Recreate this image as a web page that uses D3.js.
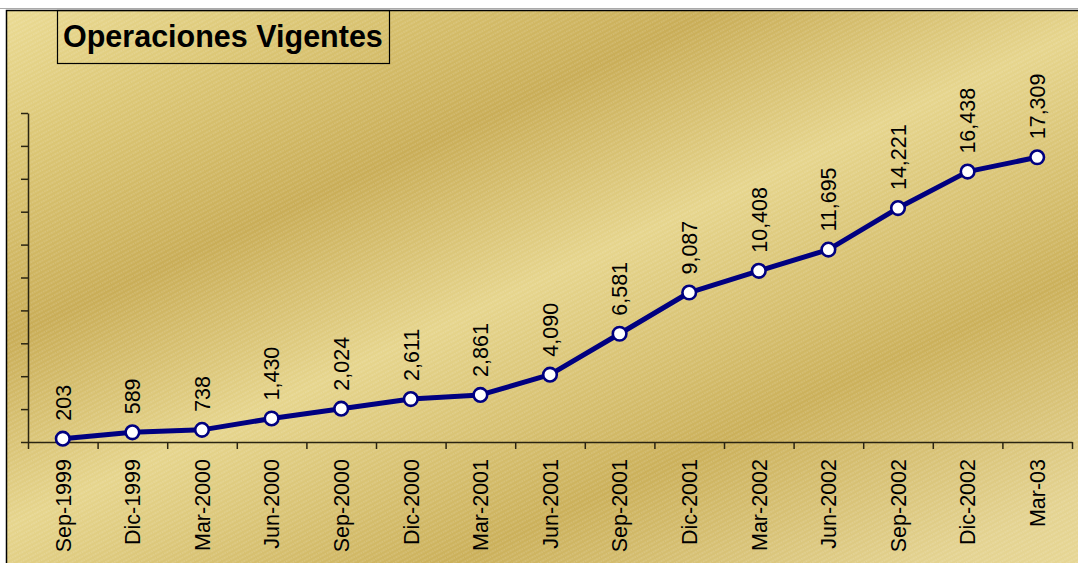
<!DOCTYPE html>
<html>
<head>
  <title>Operaciones Vigentes</title>
  <script src="https://d3js.org/d3.v7.min.js"></script>
  <style>
    body { margin: 0; background: #fff; }
    text { font-family: Arial, "Liberation Sans", sans-serif; }
  </style>
</head>
<body>
  <svg width="1078" height="563"></svg>
  <script>
    var categories = ["Sep-1999", "Dic-1999", "Mar-2000", "Jun-2000", "Sep-2000", "Dic-2000",
      "Mar-2001", "Jun-2001", "Sep-2001", "Dic-2001", "Mar-2002", "Jun-2002", "Sep-2002",
      "Dic-2002", "Mar-03"];
    var values = [203, 589, 738, 1430, 2024, 2611, 2861, 4090, 6581, 9087, 10408, 11695,
      14221, 16438, 17309];
    var yTicks = d3.range(0, 20001, 2000);

    var svg = d3.select("svg"),
        margin = {top: 113, right: 6, bottom: 121, left: 28},
        width = +svg.attr("width") - margin.left - margin.right,
        height = +svg.attr("height") - margin.top - margin.bottom;

    // background: gold bands + thin white diagonal hatching
    var defs = svg.append("defs");
    var grad = defs.append("linearGradient")
        .attr("id", "gold")
        .attr("gradientUnits", "userSpaceOnUse")
        .attr("x1", 0).attr("y1", 0)
        .attr("x2", 420).attr("y2", 910);
    [[0, "#ecdd97"], [0.14, "#dcc776"], [0.31, "#c9ad57"], [0.48, "#e6d58d"],
     [0.7, "#cbb05a"], [0.9, "#e4d391"], [1, "#e8d896"]].forEach(function(s) {
      grad.append("stop").attr("offset", s[0]).attr("stop-color", s[1]);
    });
    var pat = defs.append("pattern")
        .attr("id", "hatch")
        .attr("patternUnits", "userSpaceOnUse")
        .attr("width", 8).attr("height", 4)
        .attr("patternTransform", "rotate(-28)");
    pat.append("line")
        .attr("x1", 0).attr("y1", 2).attr("x2", 8).attr("y2", 2)
        .attr("stroke", "#fff").attr("stroke-opacity", 0.28)
        .attr("stroke-width", 1).attr("stroke-dasharray", "1.5,1");

    svg.append("rect").attr("x", 6.5).attr("y", 10.5).attr("width", 1100).attr("height", 600)
        .attr("fill", "url(#gold)");
    svg.append("rect").attr("x", 6.5).attr("y", 10.5).attr("width", 1100).attr("height", 600)
        .attr("fill", "url(#hatch)").attr("stroke", "#000").attr("stroke-width", 1.5);
    svg.append("line").attr("x1", 0).attr("x2", 1078).attr("y1", 8.5).attr("y2", 8.5)
        .attr("stroke", "#aaa").attr("stroke-width", 1);

    // title box
    svg.append("rect").attr("x", 57.5).attr("y", 10.5).attr("width", 332).attr("height", 53)
        .attr("fill", "none").attr("stroke", "#000").attr("stroke-width", 1.2);
    svg.append("text").attr("x", 63).attr("y", 47)
        .attr("font-size", 30.5).attr("font-weight", "bold").attr("fill", "#000")
        .text("Operaciones Vigentes");

    var x = d3.scaleBand().domain(categories).range([0, width]),
        xi = d3.scaleLinear().domain([0, categories.length]).range([0, width]),
        y = d3.scaleLinear().domain([0, 20000]).range([height, 0]);

    var g = svg.append("g")
        .attr("transform", "translate(" + margin.left + "," + margin.top + ")");

    var yAxis = g.append("g")
        .call(d3.axisLeft(y).tickValues(yTicks).tickSize(7).tickSizeOuter(0).tickFormat(""));
    var xAxis = g.append("g")
        .attr("transform", "translate(0," + height + ")")
        .call(d3.axisBottom(xi).tickValues(d3.range(0, categories.length + 1))
          .tickSize(7).tickSizeOuter(0).tickFormat(""));
    [yAxis, xAxis].forEach(function(a) {
      a.selectAll("path, line").attr("stroke", "#2a2412").attr("stroke-width", 1.5);
    });

    g.selectAll(".cat")
      .data(categories)
      .enter().append("text")
      .attr("class", "cat")
      .attr("transform", function(d) {
        return "translate(" + (x(d) + x.bandwidth() / 2) + "," + (height + 17) + ") rotate(-90)";
      })
      .attr("dy", "0.36em")
      .attr("text-anchor", "end")
      .attr("font-size", 21.5)
      .attr("fill", "#000")
      .text(function(d) { return d; });

    var pts = categories.map(function(c, i) { return {cat: c, v: values[i]}; });

    g.append("path")
      .datum(pts)
      .attr("fill", "none")
      .attr("stroke", "#000080")
      .attr("stroke-width", 5)
      .attr("stroke-linejoin", "round")
      .attr("d", d3.line()
        .x(function(d) { return x(d.cat) + x.bandwidth() / 2; })
        .y(function(d) { return y(d.v); }));

    g.selectAll(".pt")
      .data(pts)
      .enter().append("circle")
      .attr("class", "pt")
      .attr("cx", function(d) { return x(d.cat) + x.bandwidth() / 2; })
      .attr("cy", function(d) { return y(d.v); })
      .attr("r", 6.8)
      .attr("fill", "#fff")
      .attr("stroke", "#000080")
      .attr("stroke-width", 2.6);

    g.selectAll(".lbl")
      .data(pts)
      .enter().append("text")
      .attr("class", "lbl")
      .attr("transform", function(d) {
        return "translate(" + (x(d.cat) + x.bandwidth() / 2) + "," + (y(d.v) - 18) + ") rotate(-90)";
      })
      .attr("dy", "0.36em")
      .attr("font-size", 21.5)
      .attr("fill", "#000")
      .text(function(d) { return d3.format(",")(d.v); });
  </script>
</body>
</html>
